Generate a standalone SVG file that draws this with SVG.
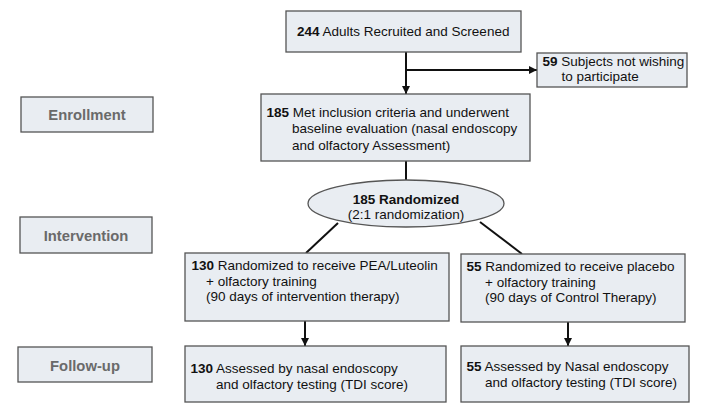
<svg xmlns="http://www.w3.org/2000/svg" width="701" height="406" viewBox="0 0 701 406">
<style>
.box{fill:#e9edf2;stroke:#555;stroke-width:1.3}
.lab{fill:#e9edf2;stroke:#555;stroke-width:1.3}
.t{font-family:"Liberation Sans",Arial,sans-serif;font-size:13.5px;fill:#111}
.b{font-weight:bold}
.lt{font-family:"Liberation Sans",Arial,sans-serif;font-size:14.8px;font-weight:bold;fill:#6a6a6a;text-anchor:middle}
.c{stroke:#111;stroke-width:2;fill:none}
</style>
<defs>
<marker id="ah" viewBox="0 0 8 8" refX="8" refY="4" markerWidth="4" markerHeight="4" orient="auto" markerUnits="strokeWidth">
<path d="M0,0 L8,4 L0,8 z" fill="#111"/>
</marker>
</defs>
<rect width="701" height="406" fill="#fff"/>
<g id="connectors">
<line class="c" x1="406" y1="52" x2="406" y2="94" marker-end="url(#ah)"/>
<line class="c" x1="406" y1="70" x2="537" y2="70" marker-end="url(#ah)"/>
<line class="c" x1="406" y1="161" x2="406" y2="181"/>
<line class="c" x1="338" y1="223" x2="306" y2="253"/>
<line class="c" x1="480" y1="222" x2="522" y2="254"/>
<line class="c" x1="305" y1="321" x2="305" y2="346" marker-end="url(#ah)"/>
<line class="c" x1="568" y1="322" x2="568" y2="346" marker-end="url(#ah)"/>
</g>
<g id="screened">
<rect class="box" x="286" y="11" width="235" height="41"/>
<text class="t" x="297" y="36"><tspan class="b">244</tspan> Adults Recruited and Screened</text>
</g>
<g id="excluded">
<rect class="box" x="537" y="53" width="150" height="34"/>
<text class="t" x="542.5" y="65.7"><tspan class="b">59</tspan> Subjects not wishing</text>
<text class="t" x="561.5" y="81">to participate</text>
</g>
<g id="enrollment">
<rect class="lab" x="21" y="97" width="132" height="35"/>
<text class="lt" x="87" y="120">Enrollment</text>
</g>
<g id="eligible">
<rect class="box" x="261" y="94" width="269" height="67"/>
<text class="t" x="266.5" y="116.5"><tspan class="b">185</tspan> Met inclusion criteria and underwent</text>
<text class="t" x="292" y="133">baseline evaluation (nasal endoscopy</text>
<text class="t" x="292" y="149.5">and olfactory Assessment)</text>
</g>
<g id="randomized">
<ellipse cx="406" cy="203.5" rx="98" ry="23.5" fill="#e9edf2" stroke="#555" stroke-width="1.3"/>
<text class="t b" x="406" y="203.5" text-anchor="middle">185 Randomized</text>
<text class="t" x="406" y="219" text-anchor="middle">(2:1 randomization)</text>
</g>
<g id="intervention">
<rect class="lab" x="20" y="217" width="132" height="36"/>
<text class="lt" x="86" y="240.5">Intervention</text>
</g>
<g id="pea">
<rect class="box" x="185" y="253" width="264" height="68"/>
<text class="t" x="191.5" y="270"><tspan class="b">130</tspan> Randomized to receive PEA/Luteolin</text>
<text class="t" x="206" y="285.5">+ olfactory training</text>
<text class="t" x="206" y="301">(90 days of intervention therapy)</text>
</g>
<g id="placebo">
<rect class="box" x="461" y="254" width="224" height="68"/>
<text class="t" x="466.5" y="271"><tspan class="b">55</tspan> Randomized to receive placebo</text>
<text class="t" x="485" y="286.5">+ olfactory training</text>
<text class="t" x="485" y="302">(90 days of Control Therapy)</text>
</g>
<g id="followup">
<rect class="lab" x="18" y="347" width="134" height="35"/>
<text class="lt" x="85" y="370.5">Follow-up</text>
</g>
<g id="assessed-pea">
<rect class="box" x="185" y="346" width="261" height="56"/>
<text class="t" x="190.5" y="372.5"><tspan class="b">130</tspan> Assessed by nasal endoscopy</text>
<text class="t" x="216" y="388.5">and olfactory testing (TDI score)</text>
</g>
<g id="assessed-placebo">
<rect class="box" x="461" y="346" width="228" height="56"/>
<text class="t" x="466.5" y="371"><tspan class="b">55</tspan> Assessed by Nasal endoscopy</text>
<text class="t" x="485" y="386.5">and olfactory testing (TDI score)</text>
</g>
</svg>
